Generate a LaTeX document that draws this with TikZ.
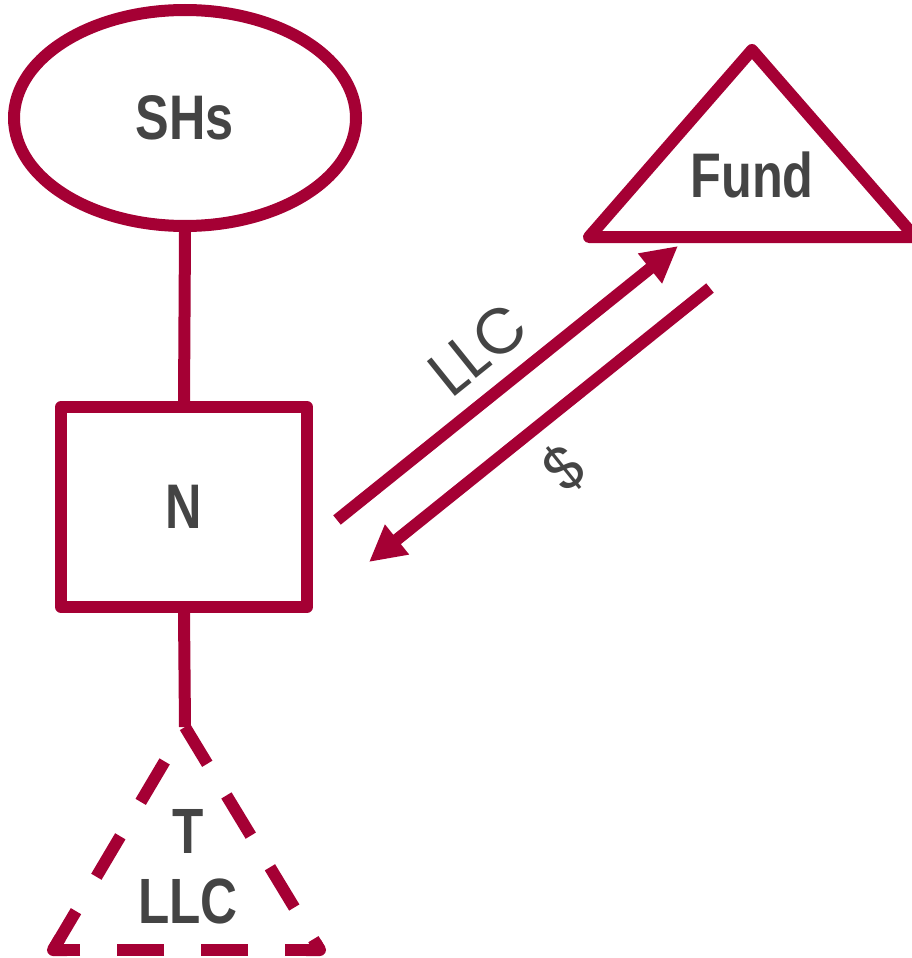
\documentclass[tikz,border=0pt]{standalone}
\usepackage{fontspec}
\setmainfont{Liberation Sans}
\newfontfamily\namefont[FakeStretch=0.8]{Liberation Sans}
\newfontfamily\flowfont{Poppins}
\usetikzlibrary{shapes.geometric,arrows.meta,calc}
\definecolor{wine}{HTML}{A50034}
\definecolor{ink}{HTML}{444444}
\tikzset{
  entity/.style={draw=wine, line width=12pt, line join=round, inner sep=0pt,
    text=ink, font=\namefont\bfseries\fontsize{63}{70}\selectfont},
  link/.style={draw=wine, line width=12pt},
  dashside/.style={link, dash pattern=on 47pt off 37pt},
  flow/.style={draw=wine, line width=12pt, line cap=butt,
    -{Triangle[length=36pt,width=36pt]}},
  flowlabel/.style={text=ink, inner sep=0pt, rotate=38.8,
    font=\flowfont\fontsize{64}{70}\selectfont},
  namelabel/.style={text=ink, inner sep=0pt, align=center,
    font=\namefont\bfseries\fontsize{64}{70}\selectfont}
}
\begin{document}
\begin{tikzpicture}[x=1pt,y=-1pt]
\useasboundingbox (0,0) rectangle (911,958);

% shareholders and the parent corporation
\node[entity, ellipse, minimum width=342pt, minimum height=216pt] (shs) at (185,118) {SHs};
\node[entity, rectangle, minimum width=246pt, minimum height=200pt] (n) at (184,507) {N};

% the fund
\coordinate (fa) at (752,50);
\coordinate (fl) at (589,237);
\coordinate (fr) at (915,237);
\draw[link, line join=round] (fa) -- (fl) -- (fr) -- cycle;
\node[namelabel, font=\namefont\bfseries\fontsize{63}{70}\selectfont] (fund) at (752,175) {Fund};

% the target LLC, drawn dashed side by side
\coordinate (ta) at (185,727);
\coordinate (tl) at (53,950);
\coordinate (tr) at (320,950);
\draw[dashside, dash phase=4pt] (ta) -- (tr);
\draw[dashside, dash pattern=on 47pt off 40pt, dash phase=47pt] (ta) -- (tl);
\draw[dashside, dash phase=12pt] (tr) -- (tl);
% solid corners where the dashes turn
\draw[link, line join=round] ($(tl)!14pt!(ta)$) -- (tl) -- ($(tl)!14pt!(tr)$);
\draw[link, line join=round] ($(tr)!8pt!(ta)$) -- (tr) -- ($(tr)!14pt!(tl)$);
\node[namelabel] (t) at (188,867) {T\\LLC};

% ownership lines
\draw[link] (shs.south) -- (n.north);
\draw[link] (n.south) -- (ta);

% exchange between N and the fund
\coordinate (up0) at (337,520);
\coordinate (up1) at (678,246);
\coordinate (dn0) at (710,288);
\coordinate (dn1) at (369,562);
\draw[flow] (up0) -- (up1);
\draw[flow] (dn0) -- (dn1);
\node[flowlabel] (llc) at (478,349) {LLC};
\node[flowlabel, font=\flowfont\fontsize{60}{66}\selectfont] (cash) at (565,467) {\$};
\end{tikzpicture}
\end{document}
